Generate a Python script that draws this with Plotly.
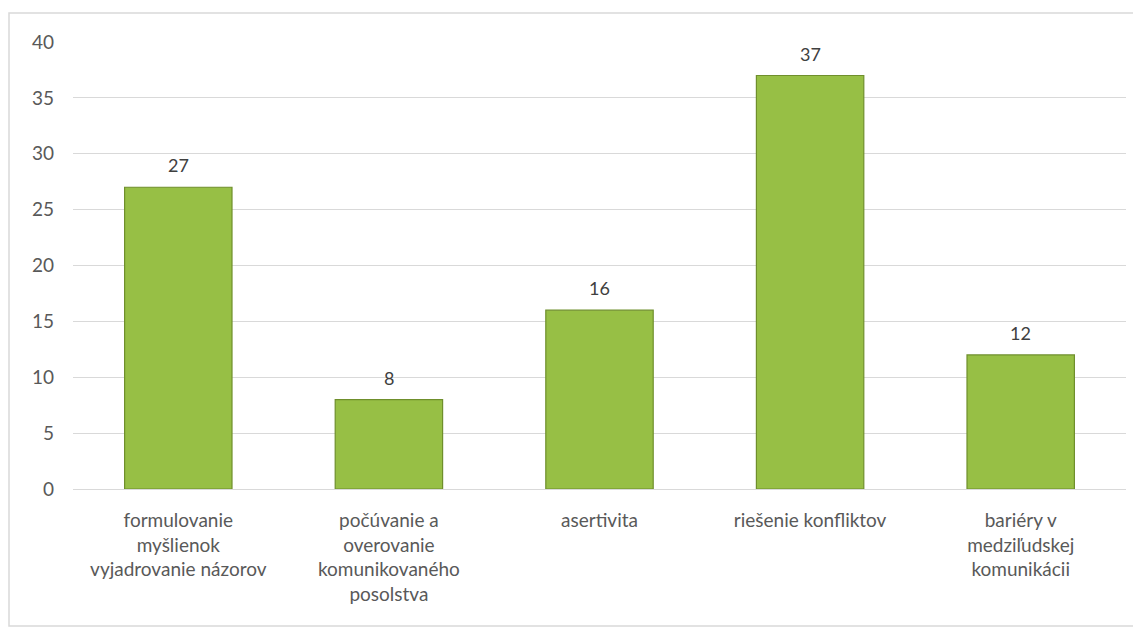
import plotly.graph_objects as go

categories = [
    "formulovanie<br>myšlienok<br>vyjadrovanie názorov",
    "počúvanie a<br>overovanie<br>komunikovaného<br>posolstva",
    "asertivita",
    "riešenie konfliktov",
    "bariéry v<br>medziľudskej<br>komunikácii",
]
values = [27, 8, 16, 37, 12]
y_ticks = [0, 5, 10, 15, 20, 25, 30, 35, 40]

# page body has an 8px default margin; figure origin sits at (8, 8)
OFF = 8
W, H = 1141, 631
PL, PR, PT, PB = 73, 1126, 42, 489   # desired plot-area edges in page pixels
L = PL - OFF
T = PT - OFF
R = W + OFF - PR
B = H + OFF - PB
pw, ph = PR - PL, PB - PT

font_family = "Lato, 'Open Sans', sans-serif"

fig = go.Figure()
fig.add_trace(go.Bar(
    x=categories,
    y=values,
    marker=dict(color="#97bf45", line=dict(color="#6f8f2c", width=1.2)),
    width=0.51,
    hoverinfo="x+y",
))

for c, v in zip(categories, values):
    fig.add_annotation(
        x=c, y=v, text=str(v), showarrow=False,
        yanchor="bottom", yshift=9,
        font=dict(family=font_family, size=18, color="#404040"),
    )

fig.update_layout(
    width=W, height=H,
    margin=dict(l=L, r=R, t=T, b=B, autoexpand=False),
    paper_bgcolor="white",
    plot_bgcolor="white",
    showlegend=False,
    font=dict(family=font_family, size=19, color="#595959"),
    xaxis=dict(
        showgrid=False,
        showline=True, linecolor="#d9d9d9", linewidth=1,
        ticks="", tickfont=dict(size=19, color="#595959"),
        tickangle=0, ticklabelstandoff=14,
    ),
    yaxis=dict(
        range=[0, 40],
        tickvals=y_ticks,
        showgrid=True, gridcolor="#d9d9d9", gridwidth=1,
        zeroline=False, showline=False,
        ticks="", ticklabelstandoff=18,
        tickfont=dict(size=19, color="#595959"),
    ),
    shapes=[dict(
        type="rect", xref="paper", yref="paper",
        x0=(9 - PL) / pw, x1=(1135 - PL) / pw,
        y0=(PB - 626) / ph, y1=(PB - 13) / ph,
        line=dict(color="#d9d9d9", width=1.5), layer="below",
    )],
)

fig.write_html("out.html")
